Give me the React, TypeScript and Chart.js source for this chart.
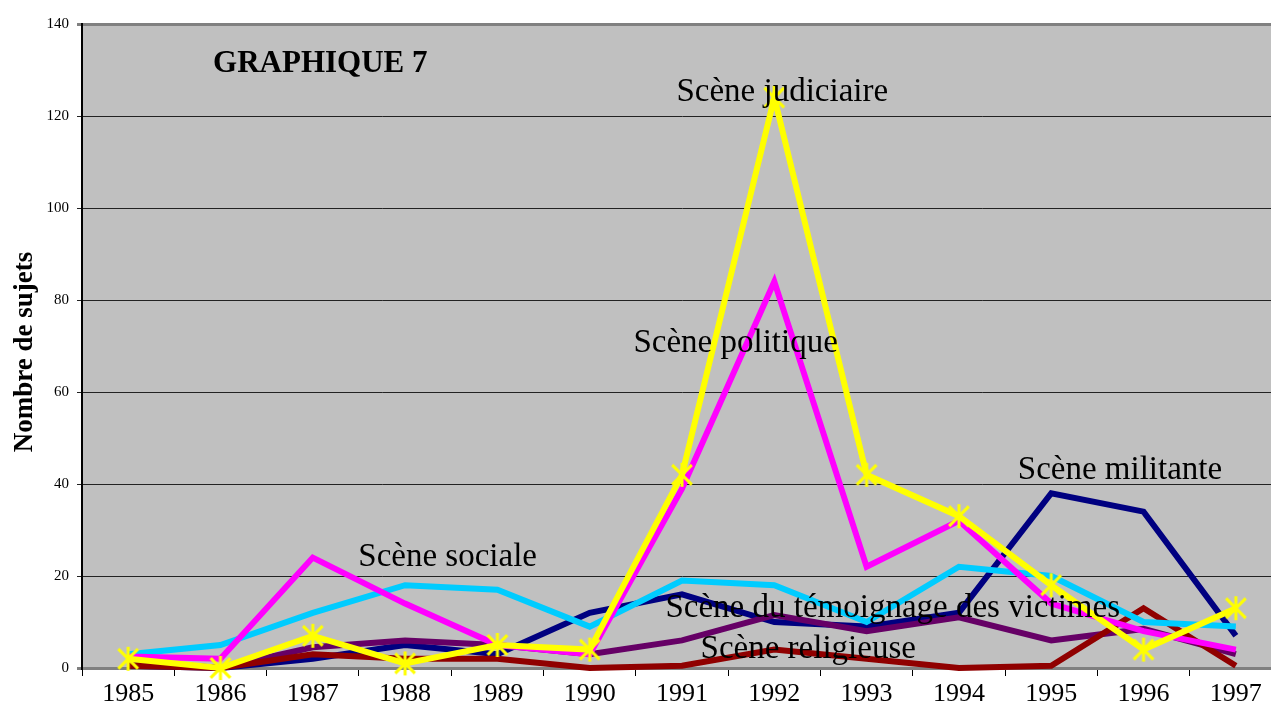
import React, { useEffect, useRef } from "react";
import { Chart, registerables } from "chart.js";

Chart.register(...registerables);

const years = ["1985", "1986", "1987", "1988", "1989", "1990", "1991", "1992", "1993", "1994", "1995", "1996", "1997"];
const judiciaire = [2, 0, 7, 1, 5, 4, 42, 124, 42, 33, 18, 4, 13];
const politique = [2.5, 2, 24, 14, 5, 3, 39, 84, 22, 32, 14, 8, 4];
const sociale = [3, 5, 12, 18, 17, 9, 19, 18, 10, 22, 20, 10, 9];
const militante = [0.5, 0, 2, 5, 3, 12, 16, 10, 9, 12, 38, 34, 7];
const temoignage = [1.5, 0, 4.5, 6, 5, 3, 6, 11.5, 8, 11, 6, 8.5, 3];
const religieuse = [0.5, 0, 3, 2, 2, 0, 0.5, 4, 2, 0, 0.5, 13, 0.5];
const yTicks = [0, 20, 40, 60, 80, 100, 120, 140];

const title = "GRAPHIQUE 7";
const yTitle = "Nombre de sujets";
// labels anchored (left edge, baseline) to data coordinates (category index, value)
const seriesLabels = [
  { text: "Scène judiciaire", x: 5.94, y: 123.3 },
  { text: "Scène politique", x: 5.474, y: 68.7 },
  { text: "Scène sociale", x: 2.493, y: 22.2 },
  { text: "Scène militante", x: 9.638, y: 41.1 },
  { text: "Scène du témoignage des victimes", x: 5.821, y: 11.1 },
  { text: "Scène religieuse", x: 6.201, y: 2.2 },
];

const SERIF = "'Liberation Serif', 'DejaVu Serif', serif";

function makeStar(color: string, r: number): HTMLCanvasElement {
  const c = document.createElement("canvas");
  const s = r * 2 + 4;
  c.width = s;
  c.height = s;
  const g = c.getContext("2d")!;
  g.strokeStyle = color;
  g.lineWidth = 3;
  g.lineCap = "butt";
  const m = s / 2;
  const d = r * 0.82;
  g.beginPath();
  g.moveTo(m - d, m - d); g.lineTo(m + d, m + d);
  g.moveTo(m + d, m - d); g.lineTo(m - d, m + d);
  g.moveTo(m, m - r); g.lineTo(m, m + r);
  g.stroke();
  return c;
}

export default function App() {
  const ref = useRef<HTMLCanvasElement | null>(null);

  useEffect(() => {
    if (!ref.current) return;
    const bgPlugin = {
      id: "bg",
      beforeDraw(chart: any) {
        const { ctx, chartArea } = chart;
        ctx.save();
        ctx.fillStyle = "#c0c0c0";
        ctx.fillRect(chartArea.left, chartArea.top, chartArea.right - chartArea.left, chartArea.bottom - chartArea.top);
        ctx.restore();
      },
    };
    const textPlugin = {
      id: "texts",
      afterDatasetsDraw(chart: any) {
        const { ctx, scales } = chart;
        ctx.save();
        ctx.fillStyle = "#000";
        ctx.textBaseline = "alphabetic";
        ctx.textAlign = "left";
        ctx.font = `33px ${SERIF}`;
        for (const l of seriesLabels) {
          ctx.fillText(l.text, scales.x.getPixelForValue(l.x), scales.y.getPixelForValue(l.y));
        }
        ctx.font = `bold 31px ${SERIF}`;
        ctx.fillText(title, scales.x.getPixelForValue(0.92), scales.y.getPixelForValue(129.6));
        ctx.translate(32, scales.y.getPixelForValue(68.7));
        ctx.rotate(-Math.PI / 2);
        ctx.textAlign = "center";
        ctx.font = `bold 27px ${SERIF}`;
        ctx.fillText(yTitle, 0, 0);
        ctx.restore();
      },
    };

    const mk = (label: string, data: number[], color: string, extra: any = {}) => ({
      label,
      data,
      borderColor: color,
      backgroundColor: color,
      borderWidth: 6,
      pointRadius: 0,
      tension: 0,
      clip: false,
      ...extra,
    });

    const star = makeStar("#ffff00", 12);

    const chart = new Chart(ref.current, {
      type: "line",
      data: {
        labels: years,
        datasets: [
          mk("Scène judiciaire", judiciaire, "#ffff00", {
            pointRadius: 12,
            pointStyle: star,
          }),
          mk("Scène politique", politique, "#ff00ff"),
          mk("Scène sociale", sociale, "#00ccff"),
          mk("Scène religieuse", religieuse, "#900000"),
          mk("Scène du témoignage des victimes", temoignage, "#660066"),
          mk("Scène militante", militante, "#000080"),
        ],
      },
      plugins: [bgPlugin, textPlugin],
      options: {
        responsive: false,
        animation: false,
        devicePixelRatio: 1,
        layout: { autoPadding: false, padding: { top: 24, right: 3, left: 0, bottom: 0 } },
        plugins: { legend: { display: false }, tooltip: { enabled: false } },
        scales: {
          x: {
            type: "category",
            offset: true,
            grid: { offset: true, drawOnChartArea: false, drawTicks: true, tickLength: 8, color: "#000", lineWidth: 1 },
            border: { color: "#808080", width: 2 },
            ticks: { color: "#000", font: { family: SERIF, size: 26 }, padding: 3, maxRotation: 0, autoSkip: false },
            afterFit: (s: any) => { s.height = 41; },
          },
          y: {
            min: 0,
            max: 140,
            afterBuildTicks: (s: any) => { s.ticks = yTicks.map((v) => ({ value: v })); },
            grid: {
              color: (c: any) => (c.tick && (c.tick.value === 140 || c.tick.value === 0) ? "#808080" : "#222"),
              lineWidth: (c: any) => (c.tick && (c.tick.value === 140 || c.tick.value === 0) ? 3 : 1),
              tickLength: 5,
            },
            border: { color: "#000", width: 2 },
            ticks: { color: "#000", font: { family: SERIF, size: 15 }, padding: 8 },
            afterFit: (s: any) => { s.width = 82; },
          },
        },
      },
    } as any);
    return () => chart.destroy();
  }, []);

  return (
    <div style={{ position: "fixed", left: 0, top: 0, width: 1271, height: 709, overflow: "hidden", background: "#fff" }}>
      <div style={{ position: "absolute", left: 0, top: 0, width: 1285, height: 709 }}>
        <canvas ref={ref} width={1285} height={709} style={{ display: "block", width: 1285, height: 709 }} />
      </div>
    </div>
  );
}
